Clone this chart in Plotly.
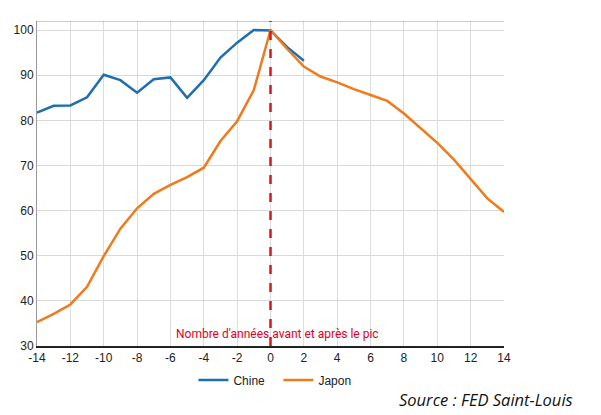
import plotly.graph_objects as go

years_chine = list(range(-14, 3))
chine = [81.7, 83.2, 83.3, 85.1, 90.1, 88.9, 86.1, 89.1, 89.5, 85.0, 88.9, 93.9, 97.2, 100.0, 99.9, 96.2, 93.2]

years_japon = list(range(-14, 15))
japon = [35.3, 37.1, 39.2, 43.1, 49.9, 56.0, 60.5, 63.7, 65.7, 67.4, 69.5, 75.4, 79.8, 86.7, 100.0,
         95.8, 91.9, 89.7, 88.4, 86.9, 85.6, 84.3, 81.5, 78.3, 75.0, 71.3, 66.9, 62.7, 59.7]

x_ticks = list(range(-14, 15, 2))
x_tick_labels = [str(v) for v in x_ticks]
y_ticks = list(range(30, 101, 10))
y_tick_labels = [str(v) for v in y_ticks]

fig = go.Figure()
fig.add_trace(go.Scatter(x=years_chine, y=chine, mode="lines", name="Chine",
                         line=dict(color="#1f6fb0", width=2.5)))
fig.add_trace(go.Scatter(x=years_japon, y=japon, mode="lines", name="Japon",
                         line=dict(color="#f07a1c", width=2.5)))

fig.add_shape(type="line", x0=-14, x1=14, y0=102, y1=102, xref="x", yref="y",
              line=dict(color="#999999", width=1))
fig.add_shape(type="line", x0=0, x1=0, y0=30, y1=102, xref="x", yref="y",
              line=dict(color="#d8141c", width=2.5, dash="dash"), layer="above")

fig.add_annotation(x=0.4, y=30, xref="x", yref="y", yshift=12,
                   text="Nombre d'années avant et après le pic", showarrow=False,
                   font=dict(family="Roboto", size=12, color="#e3001b"))

fig.add_annotation(x=1.152, y=-0.166, xref="paper", yref="paper", xanchor="right", yanchor="middle",
                   text="<i>Source : FED Saint-Louis</i>", showarrow=False,
                   font=dict(family="Open Sans", size=16.5, color="#111111"))

fig.update_layout(
    width=593, height=407,
    margin=dict(l=29, r=97, t=13, b=69, autoexpand=False),
    paper_bgcolor="white", plot_bgcolor="white",
    font=dict(family="Liberation Sans, Arial", size=12, color="#222222"),
    showlegend=True,
    legend=dict(orientation="h", x=0.335, xanchor="left", y=-0.06, yanchor="top",
                font=dict(size=12, color="#222222"), entrywidth=40, itemwidth=30),
    xaxis=dict(range=[-14, 14], tickvals=x_ticks, ticktext=x_tick_labels, showgrid=True,
               gridcolor="#dddddd", gridwidth=1, automargin=False,
               zeroline=False, showline=True, linecolor="#222222", linewidth=1.5, ticks="",
               tickfont=dict(size=12)),
    yaxis=dict(range=[30, 102], tickvals=y_ticks, ticktext=y_tick_labels, showgrid=True,
               gridcolor="#d9d9d9", gridwidth=1, automargin=False,
               zeroline=False, showline=True, linecolor="#999999", linewidth=1, ticks="",
               tickfont=dict(size=12)),
)

fig.write_html("out.html")
